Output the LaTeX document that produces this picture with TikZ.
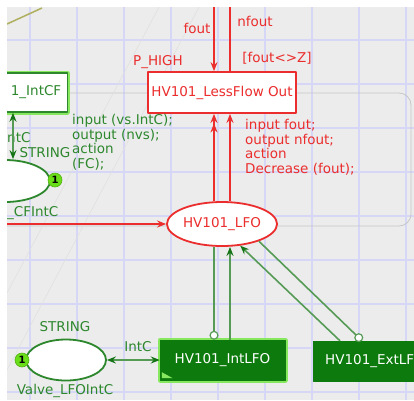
\documentclass[tikz,border=0pt]{standalone}
\usepackage{fontspec}
\setmainfont{DejaVu Sans}
\usetikzlibrary{arrows.meta,shapes.geometric,positioning}
\definecolor{pnbg}{RGB}{236,236,236}
\definecolor{pngrid}{RGB}{214,214,246}
\definecolor{pnred}{RGB}{235,45,45}
\definecolor{pngreen}{RGB}{45,135,45}
\definecolor{pnline}{RGB}{85,155,85}
\definecolor{pnarrow}{RGB}{20,115,20}
\definecolor{pndark}{RGB}{12,122,12}
\definecolor{pnglow}{RGB}{135,232,95}
\definecolor{pntoken}{RGB}{105,222,25}
\definecolor{pnolive}{RGB}{175,175,95}
\begin{document}
\begin{tikzpicture}[x=1pt,y=-1pt,font=\fontsize{13.5}{14.7}\selectfont,line join=round,
	>={Stealth[length=9pt,width=7pt,inset=3pt]},
	redbox/.style={draw=pnred,line width=1.8pt,fill=white,text=pnred,minimum width=148pt,minimum height=41pt,inner sep=0pt},
	redplace/.style={ellipse,draw=pnred,line width=1.8pt,fill=white,text=pnred,minimum width=90pt,minimum height=44pt,inner sep=0pt},
	gplace/.style={ellipse,draw=pngreen,line width=1.8pt,fill=white,minimum width=80pt,minimum height=41pt,inner sep=0pt},
	gbox/.style={draw=pngreen,line width=1.5pt,fill=white,text=pngreen,minimum height=39pt,preaction={draw=pnglow,line width=5pt}},
	darkbox/.style={draw=pndark,fill=pndark,text=white,minimum height=40pt,inner sep=0pt},
	glowing/.style={preaction={draw=pnglow,line width=5pt}},
	token/.style={circle,fill=pntoken,draw=pntoken!80!black,line width=0.6pt,minimum size=14pt,inner sep=0pt,font=\fontsize{10}{10}\selectfont\bfseries},
	redarc/.style={draw=pnred,line width=1.6pt},
	greenarc/.style={draw=pnline,line width=1.6pt,>={Stealth[length=9pt,width=7pt,inset=3pt,color=pnarrow]}},
	rlabel/.style={text=pnred,inner sep=0pt,align=left},
	glabel/.style={text=pngreen,inner sep=0pt,align=left}]
		\useasboundingbox (0,0) rectangle (414,400);
		\clip (7,7) rectangle (414,400);
		\fill[pnbg] (7,7) rectangle (414,400);
		%	grid
		\foreach \gx in {30,77,...,406} \draw[pngrid,line width=1.1pt] (\gx,7) -- (\gx,400);
		\foreach \gy in {40,84,...,392} \draw[pngrid,line width=1.1pt] (7,\gy) -- (414,\gy);
		\draw[black!22,line width=0.8pt,rounded corners=12pt] (7,93) -- (411,93) -- (411,226) -- (7,226);
		\draw[black!12,line width=0.6pt] (159,7) -- (7,293) (199,7) -- (7,370);
		\draw[pnolive,line width=1.5pt] (7,24) -- (42,8);
		
		\node[redbox] (lessflow) at (222,92.5) {HV101\_LessFlow Out};
		\node[redplace] (lfo) at (222,224) {HV101\_LFO};
		\node[darkbox,glowing,minimum width=125pt] (intlfo) at (222.5,360) {HV101\_IntLFO};
		\node[darkbox,anchor=west,align=left,text width=110pt,inner xsep=12pt] (extlfo) at (313,361) {HV101\_ExtLF};
		\node[gplace] (valve) at (66,360) {};
		\node[token] (tok1) at (22,360) {1};
		\node[gbox,anchor=east,text width=100pt,align=right,inner xsep=6pt] (intcf) at (68,92.5) {1\_IntCF};
		\node[gplace,minimum width=90pt,minimum height=42pt] (cf) at (5,181) {};
		\node[token] (tok2) at (55,180) {1};
		\fill[pnglow] ([shift={(2,-2)}]intlfo.south west) -- ++(0,-6) -- ++(11,6) -- cycle;
		
		\node[rlabel] (phigh) at (158,62) {P\_HIGH};
		\node[rlabel] (lfout) at (197,28) {fout};
		\node[rlabel] (lnfout) at (255,21) {nfout};
		\node[rlabel] (guard) at (277,58) {[fout<>Z]};
		\node[rlabel,anchor=north west] (rcode) at (245,119) {input fout;\\output nfout;\\action\\Decrease (fout);};
		\node[glabel,anchor=north west] (gcode) at (72,114) {input (vs.IntC);\\output (nvs);\\action\\(FC);};
		\node[glabel] (cftype) at (45,153) {STRING};
		\node[glabel,anchor=west] (cfic) at (7,138) {ntC};
		\node[glabel,anchor=west] (cfname) at (7,213) {\_CFIntC};
		\node[glabel] (vtype) at (65,327) {STRING};
		\node[glabel] (vname) at (65,391) {Valve\_LFOIntC};
		\node[glabel] (vic) at (138,347) {IntC};
		
		\coordinate (fx) at (214,0);
		\coordinate (nx) at (230,0);
		\coordinate (ftop) at (214,3);
		\coordinate (ntop) at (230,-6);
		\coordinate (lin) at (3,224);
		\coordinate (cx) at (13,0);
		\coordinate (ea) at (340,0);
		\coordinate (eb) at (362,0);
		\draw[redarc,->] (ftop) -- (lessflow.north -| ftop);
		\draw[redarc,->] (lessflow.north -| ntop) -- (ntop);
		\draw[redarc,-{>[sep=0.5pt]>}] (lfo.north -| fx) -- (lessflow.south -| fx);
		\draw[redarc,->] (lfo.north -| nx) -- (lessflow.south -| nx);
		\draw[redarc,->] (lin) -- (lfo.west);
		\draw[greenarc,-{Circle[length=9pt,fill=white,line width=1.2pt]}] (lfo.south -| fx) -- (intlfo.north -| fx);
		\draw[greenarc,->] (intlfo.north -| nx) -- (lfo.south -| nx);
		\draw[greenarc,->] (extlfo.north -| ea) -- (lfo.-50);
		\draw[greenarc,-{Circle[length=9pt,fill=white,line width=1.2pt]}] (lfo.-25) -- (extlfo.north -| eb);
		\draw[greenarc,<->] (valve.east) -- (intlfo.west);
		\draw[greenarc,<->] (intcf.south -| cx) -- (cf.north -| cx);
\end{tikzpicture}
\end{document}
